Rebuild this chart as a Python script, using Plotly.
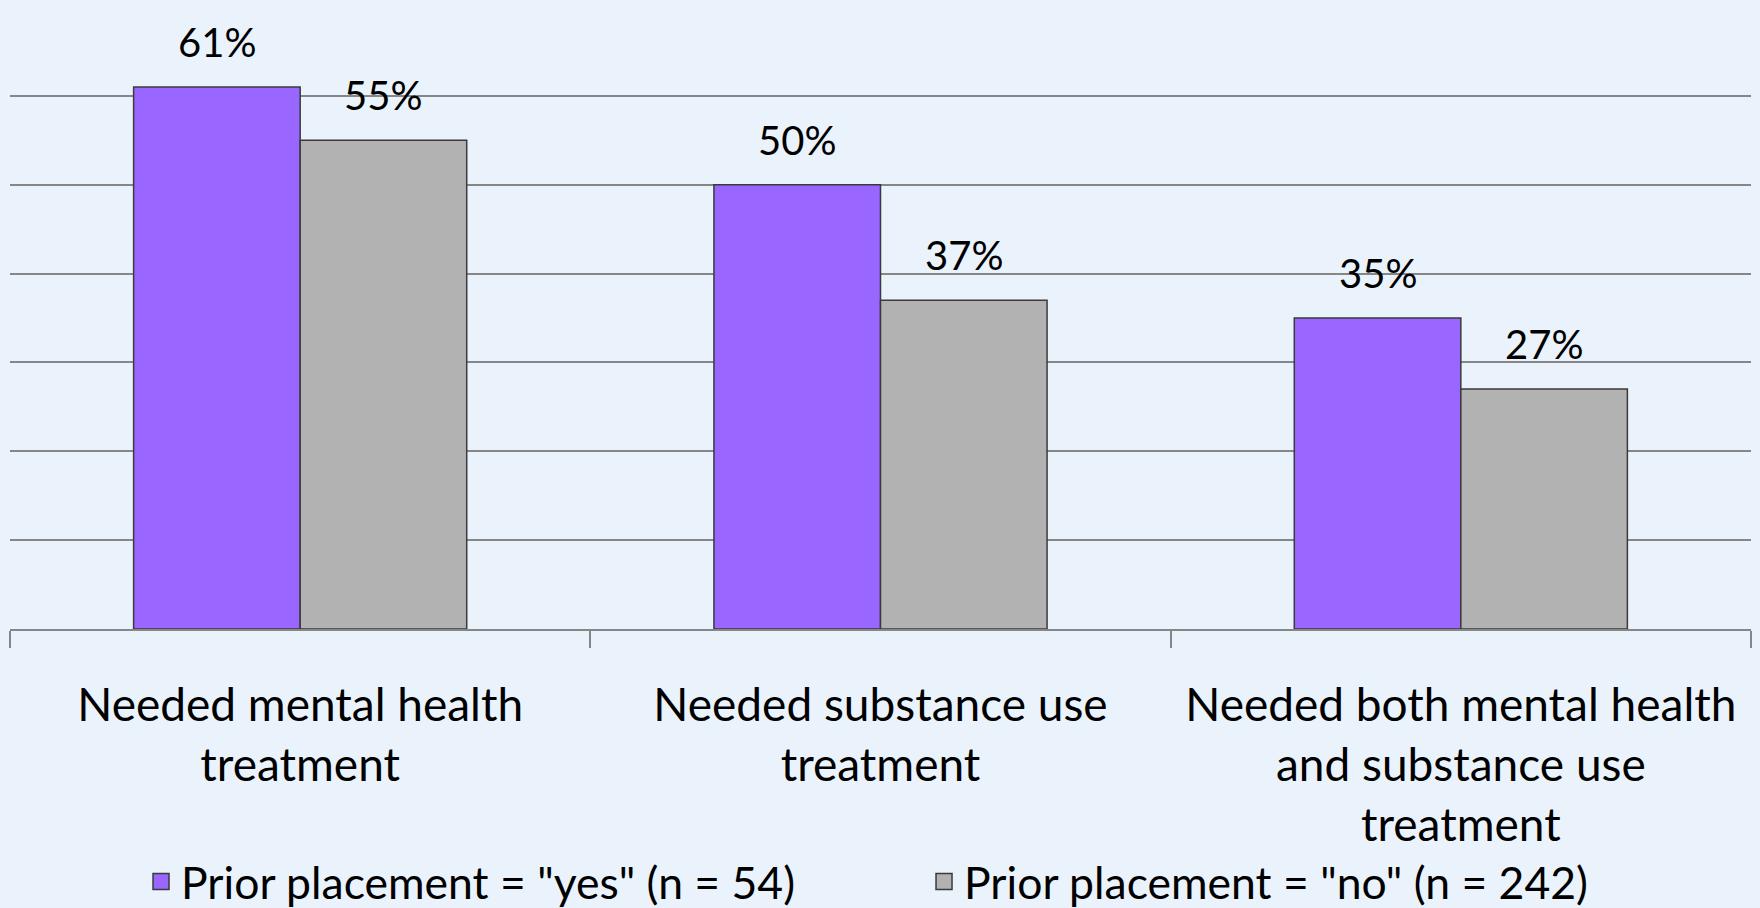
import plotly.graph_objects as go

# данные
categories = [
    "Needed mental health<br>treatment",
    "Needed substance use<br>treatment",
    "Needed both mental health<br>and substance use<br>treatment",
]
yes_values = [61, 50, 35]
no_values = [55, 37, 27]
series_names = ['Prior placement = "yes" (n = 54)', 'Prior placement = "no" (n = 242)']
colors = ["#9966FF", "#B2B2B2"]

bg = "#EAF3FC"
font_name = "Lato"
bargap = 0.426
edge = dict(color="#3A3A3A", width=1.5)

fig = go.Figure()
for vals, name, col in zip([yes_values, no_values], series_names, colors):
    fig.add_trace(go.Bar(
        x=categories, y=vals, name=name, showlegend=False,
        marker=dict(color=col, line=edge),
    ))
    # легенда с квадратом побольше
    fig.add_trace(go.Scatter(
        x=[None], y=[None], mode="markers", name=name,
        marker=dict(symbol="square", size=16, color=col, line=edge),
    ))

# подписи над столбцами
half = (1 - bargap) / 4
for i, (a, b) in enumerate(zip(yes_values, no_values)):
    for off, v in ((-half, a), (half, b)):
        fig.add_annotation(
            x=i + off, y=v, text=f"{v}%", showarrow=False,
            yanchor="bottom", yshift=19,
            font=dict(family=font_name, size=40, color="#000000"),
        )

fig.update_layout(
    width=1760, height=908,
    margin=dict(l=10, r=9, t=7, b=279, autoexpand=False),
    paper_bgcolor=bg, plot_bgcolor=bg,
    barmode="group", bargap=bargap, bargroupgap=0,
    font=dict(family=font_name, size=46, color="#000000"),
    legend=dict(
        orientation="h", x=0.525, xanchor="center", y=-0.463, yanchor="bottom",
        font=dict(size=44.5), bgcolor="rgba(0,0,0,0)",
        itemsizing="trace", entrywidth=738,
    ),
    showlegend=True,
)
fig.update_xaxes(
    showline=True, linecolor="#868686", linewidth=1.5,
    ticks="outside", tickson="boundaries", ticklen=17, tickcolor="#868686", tickwidth=1.5,
    tickfont=dict(size=46), ticklabelstandoff=35,
)
fig.update_yaxes(
    range=[0, 70], dtick=10, showticklabels=False,
    showgrid=True, gridcolor="#868686", gridwidth=1.5, zeroline=False,
)

fig.write_html(
    "out.html",
    config={"displayModeBar": False},
    post_script="document.body.style.margin='0';document.body.style.background='%s';" % bg,
)
